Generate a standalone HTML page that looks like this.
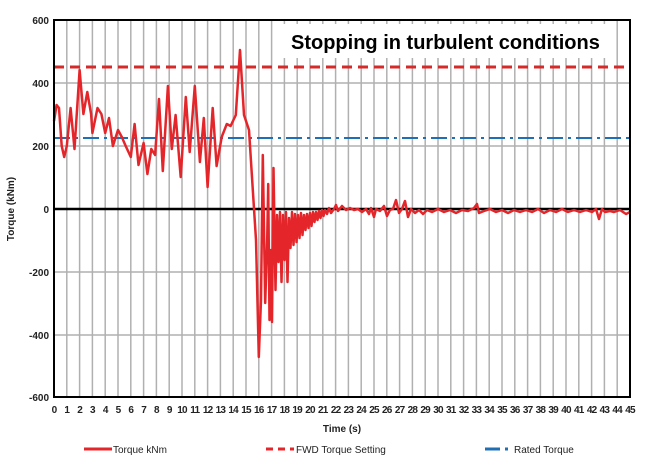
<!DOCTYPE html>
<html><head><meta charset="utf-8"><style>
body{margin:0;background:#fff;}
svg text{font-family:"Liberation Sans",Arial,sans-serif;}
</style></head><body>
<svg width="650" height="470" viewBox="0 0 650 470" xmlns="http://www.w3.org/2000/svg">
<rect width="650" height="470" fill="#fff"/>
<g stroke="#b0b0b0" stroke-width="1.5">
<path d="M66.8 20V397M79.6 20V397M92.4 20V397M105.2 20V397M118 20V397M130.8 20V397M143.6 20V397M156.4 20V397M169.2 20V397M182 20V397M194.8 20V397M207.6 20V397M220.4 20V397M233.2 20V397M246 20V397M258.8 20V397M271.6 20V397M284.4 20V397M297.2 20V397M310 20V397M322.8 20V397M335.6 20V397M348.4 20V397M361.2 20V397M374 20V397M386.8 20V397M399.6 20V397M412.4 20V397M425.2 20V397M438 20V397M450.8 20V397M463.6 20V397M476.4 20V397M489.2 20V397M502 20V397M514.8 20V397M527.6 20V397M540.4 20V397M553.2 20V397M566 20V397M578.8 20V397M591.6 20V397M604.4 20V397M617.2 20V397"/>
<path d="M54 83H630M54 146H630M54 272H630M54 335H630"/>
</g>
<rect x="282" y="24" width="330" height="34" fill="#fff"/>
<text x="291" y="49" font-size="20" font-weight="bold" fill="#000">Stopping in turbulent conditions</text>
<line x1="54" y1="67" x2="630" y2="67" stroke="#d42a2a" stroke-width="3" stroke-dasharray="10,6"/>
<line x1="54" y1="138" x2="630" y2="138" stroke="#1f6fb5" stroke-width="2" stroke-dasharray="16,5,3,5"/>
<line x1="54" y1="209" x2="630" y2="209" stroke="#000" stroke-width="2.5"/>
<polyline fill="none" stroke="#e4262b" stroke-width="2.5" stroke-linejoin="round" points="
54,121 56.6,105 59,108 61.7,146 64.2,157 66.8,146 70.6,108 74.5,149 79.6,70 83.4,114 87.3,92 91.1,114 92.4,133 97.5,108 101.4,114 105.2,133 109,118 112.9,146 118,130 121.8,137 125.7,146 130.8,157 134.6,124 138.5,165 143.6,143 147.4,174 151.3,149 155.1,155 159,99 162.8,171 167.9,86 171.8,149 175.6,115 180.7,177 185.8,97 189.7,152 194.8,86 199.9,162 203.8,118 207.6,187 212.7,108 216.6,166 221.7,137 226.8,124 230.6,126 235.8,115 240,50 244,115 249,130 253,193 256,240 258.8,357 261,300 262.8,155 265.2,303 267.2,240 268.2,184 269.5,320 271,250 272,322 273.5,168 275.5,290 277,215 278.5,262 280,212 281.5,282 283,215 284.5,260 286,212 287.5,282 289,218 290.5,248 292,212 293.5,245 295,214 296.5,242 298,215 299.5,238 301,213 302.5,235 304,215 305.5,230 307,214 308.5,228 310,213 311.5,226 313,212 314.5,222 316,212 317.5,220 319,211 320.5,218 322,210 323.5,216 325,210 327,214 329,208 331,213 334,209 336,205 338,211 342,206 346,210 350,208 354,210 358,209 362,212 366,209 369,214 371,208 374,217 376,209 380,211 384,206 387,216 390,210 393,209 396,200 399,213 402,209 405,201 408,217 411,209 415,213 419,210 423,214 427,210 432,212 438,209 444,212 450,210 456,213 462,210 468,211 474,208 477,204 479,213 484,211 490,209 496,212 502,210 508,213 514,210 520,212 526,210 532,212 538,209 544,213 550,210 556,212 562,209 568,212 574,210 580,212 586,210 592,212 596,209 599,219 602,209 605,212 610,211 614,212 620,210 626,214 630,212"/>
<rect x="54" y="20" width="576" height="377" fill="none" stroke="#000" stroke-width="2"/>
<g font-size="10" font-weight="bold" fill="#222" text-anchor="end">
<text x="49" y="24">600</text><text x="49" y="87">400</text><text x="49" y="150">200</text><text x="49" y="213">0</text><text x="49" y="276">-200</text><text x="49" y="339">-400</text><text x="49" y="401">-600</text>
</g>
<text transform="translate(14,209) rotate(-90)" font-size="10" font-weight="bold" text-anchor="middle" fill="#222">Torque (kNm)</text>
<g font-size="10" font-weight="bold" fill="#222" text-anchor="middle" letter-spacing="-0.8">
<text x="54" y="413">0</text><text x="66.8" y="413">1</text><text x="79.6" y="413">2</text><text x="92.4" y="413">3</text><text x="105.2" y="413">4</text><text x="118" y="413">5</text><text x="130.8" y="413">6</text><text x="143.6" y="413">7</text><text x="156.4" y="413">8</text><text x="169.2" y="413">9</text><text x="182" y="413">10</text><text x="194.8" y="413">11</text><text x="207.6" y="413">12</text><text x="220.4" y="413">13</text><text x="233.2" y="413">14</text><text x="246" y="413">15</text><text x="258.8" y="413">16</text><text x="271.6" y="413">17</text><text x="284.4" y="413">18</text><text x="297.2" y="413">19</text><text x="310" y="413">20</text><text x="322.8" y="413">21</text><text x="335.6" y="413">22</text><text x="348.4" y="413">23</text><text x="361.2" y="413">24</text><text x="374" y="413">25</text><text x="386.8" y="413">26</text><text x="399.6" y="413">27</text><text x="412.4" y="413">28</text><text x="425.2" y="413">29</text><text x="438" y="413">30</text><text x="450.8" y="413">31</text><text x="463.6" y="413">32</text><text x="476.4" y="413">33</text><text x="489.2" y="413">34</text><text x="502" y="413">35</text><text x="514.8" y="413">36</text><text x="527.6" y="413">37</text><text x="540.4" y="413">38</text><text x="553.2" y="413">39</text><text x="566" y="413">40</text><text x="578.8" y="413">41</text><text x="591.6" y="413">42</text><text x="604.4" y="413">43</text><text x="617.2" y="413">44</text><text x="630" y="413">45</text>
</g>
<text x="342" y="432" font-size="10" font-weight="bold" text-anchor="middle" fill="#222">Time (s)</text>
<g font-size="10" fill="#222">
<line x1="84" y1="449" x2="112" y2="449" stroke="#e4262b" stroke-width="3"/>
<text x="113" y="453">Torque kNm</text>
<line x1="266" y1="449" x2="294" y2="449" stroke="#e4262b" stroke-width="3" stroke-dasharray="7,5"/>
<text x="296" y="453">FWD Torque Setting</text>
<line x1="485" y1="449" x2="500" y2="449" stroke="#1f6fb5" stroke-width="3"/>
<line x1="505" y1="449" x2="508" y2="449" stroke="#1f6fb5" stroke-width="3"/>
<text x="514" y="453">Rated Torque</text>
</g>
</svg>
</body></html>
